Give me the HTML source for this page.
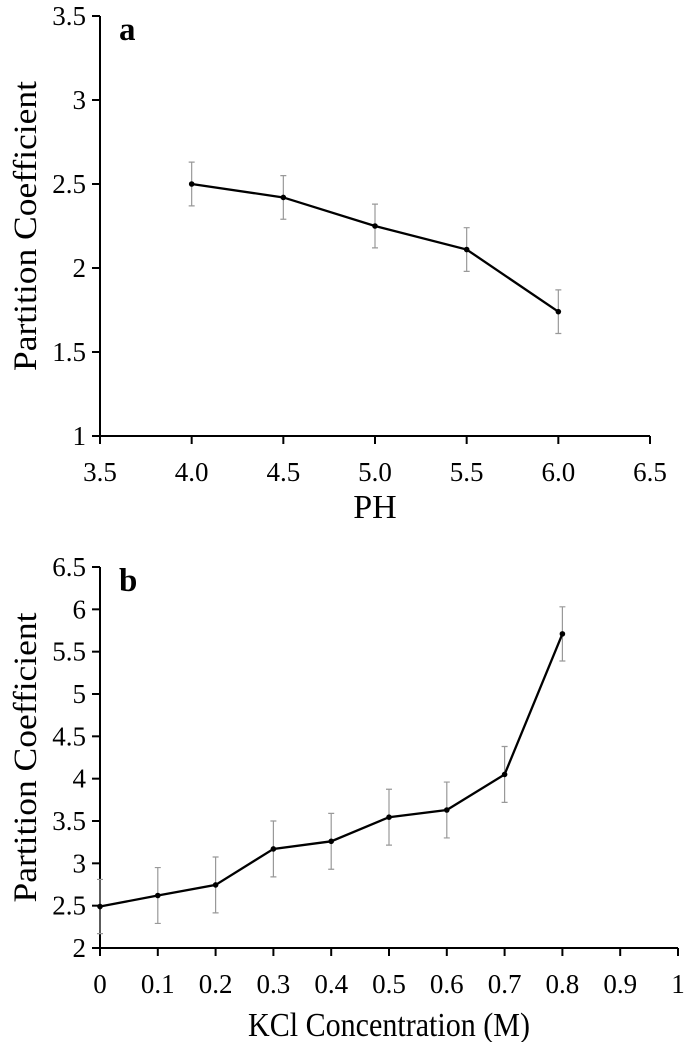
<!DOCTYPE html>
<html><head><meta charset="utf-8"><style>
html,body{margin:0;padding:0;background:#fff}
svg{display:block}
text{font-family:"Liberation Serif","Times New Roman",Times,serif;fill:#000}
</style></head><body>
<svg id="c" width="685" height="1042" viewBox="0 0 685 1042" xmlns="http://www.w3.org/2000/svg"></svg>
<script>
const phCategories=[4.0,4.5,5.0,5.5,6.0];
const phValues=[2.50,2.42,2.25,2.11,1.74];
const phErrors=[0.13,0.13,0.13,0.13,0.13];
const phXTicks=["3.5","4.0","4.5","5.0","5.5","6.0","6.5"];
const phYTicks=["1","1.5","2","2.5","3","3.5"];

const kclCategories=[0,0.1,0.2,0.3,0.4,0.5,0.6,0.7,0.8];
const kclValues=[2.49,2.62,2.745,3.17,3.26,3.545,3.63,4.05,5.71];
const kclErrors=[0.32,0.33,0.33,0.33,0.33,0.33,0.33,0.33,0.32];
const kclXTicks=["0","0.1","0.2","0.3","0.4","0.5","0.6","0.7","0.8","0.9","1"];
const kclYTicks=["2","2.5","3","3.5","4","4.5","5","5.5","6","6.5"];

const svg=document.getElementById('c');
const NS='http://www.w3.org/2000/svg';
function mk(tag,attrs,parent){const e=document.createElementNS(NS,tag);for(const k in attrs)e.setAttribute(k,attrs[k]);(parent||svg).appendChild(e);return e;}

function drawChart(o){
  const g=mk('g',{});
  
  
  const xs=v=>o.x0+(v-o.xmin)/(o.xmax-o.xmin)*(o.x1-o.x0);
  const ys=v=>o.y0-(v-o.ymin)/(o.ymax-o.ymin)*(o.y0-o.y1);
  const ya=mk('line',{x1:o.x0,y1:o.y0,x2:o.x0,y2:o.y1,stroke:'#000','stroke-width':2},g);
  
  
  const xa=mk('line',{x1:o.x0-8,y1:o.y0,x2:o.x1,y2:o.y0,stroke:'#000','stroke-width':2},g);
  
  
  o.yTicks.forEach(t=>{
    const y=ys(parseFloat(t));
    mk('line',{x1:o.x0-8,y1:y,x2:o.x0,y2:y,stroke:'#000','stroke-width':2},g);
    const tx=mk('text',{x:o.x0-14,y:y+9,'text-anchor':'end','font-size':27},g);
    tx.textContent=t;
    
    
  });
  o.xTicks.forEach(t=>{
    const x=xs(parseFloat(t));
    mk('line',{x1:x,y1:o.y0,x2:x,y2:o.y0+8,stroke:'#000','stroke-width':2},g);
    const tx=mk('text',{x:x,y:o.y0+45,'text-anchor':'middle','font-size':27},g);
    tx.textContent=t;
    
    
  });
  o.cats.forEach((c,i)=>{
    const x=xs(c),top=ys(o.vals[i]+o.errs[i]),bot=Math.min(ys(o.vals[i]-o.errs[i]),o.y0);
    const e=mk('path',{d:`M${x},${top}V${bot}M${x-3},${top}H${x+3}M${x-3},${bot}H${x+3}`,stroke:'#999','stroke-width':1.2,fill:'none'},g);
    
    
  });
  const pts=o.cats.map((c,i)=>xs(c)+','+ys(o.vals[i])).join(' ');
  const pl=mk('polyline',{points:pts,fill:'none',stroke:'#000','stroke-width':2.3},g);
  
  
  o.cats.forEach((c,i)=>{
    const p=mk('circle',{cx:xs(c),cy:ys(o.vals[i]),r:2.8,fill:'#000'},g);
    
    
  });
  const xt=mk('text',{x:(o.x0+o.x1)/2,y:o.xTitleY,'text-anchor':'middle','font-size':34},g);
  if(o.xTitleLen){xt.setAttribute('textLength',o.xTitleLen);xt.setAttribute('lengthAdjust','spacingAndGlyphs');}
  xt.textContent=o.xTitle;
  
  
  const cy=(o.y0+o.y1)/2;
  const yt=mk('text',{x:36,y:cy,'text-anchor':'middle','font-size':33,textLength:o.yTitleLen,lengthAdjust:'spacingAndGlyphs',transform:`rotate(-90 36 ${cy})`},g);
  yt.textContent='Partition Coefficient';
  
  
  const pl2=mk('text',{x:119,y:o.y1+24,'font-size':33,'font-weight':'bold'},g);
  pl2.textContent=o.label;
  
  
}

drawChart({name:'chart-a-ph',x0:100,x1:650,y0:436,y1:16,xmin:3.5,xmax:6.5,ymin:1,ymax:3.5,
  cats:phCategories,vals:phValues,errs:phErrors,xTicks:phXTicks,yTicks:phYTicks,xTitle:'PH',xTitleY:518,yTitleLen:290,label:'a'});
drawChart({name:'chart-b-kcl',x0:100,x1:678,y0:948,y1:567,xmin:0,xmax:1,ymin:2,ymax:6.5,
  cats:kclCategories,vals:kclValues,errs:kclErrors,xTicks:kclXTicks,yTicks:kclYTicks,xTitle:'KCl Concentration (M)',xTitleY:1036,xTitleLen:282,yTitleLen:290,label:'b'});
</script>
</body></html>
